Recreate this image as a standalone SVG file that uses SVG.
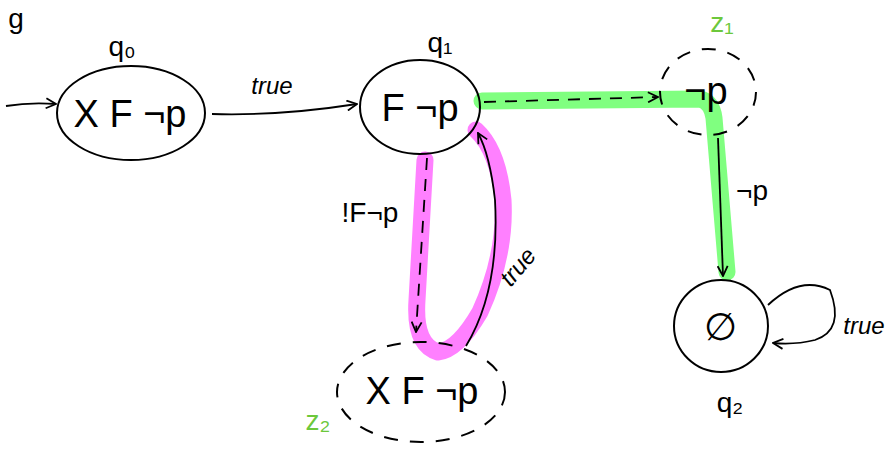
<svg xmlns="http://www.w3.org/2000/svg" width="888" height="450" viewBox="0 0 888 450">
<defs>
<marker id="ah" viewBox="0 0 12 12" refX="11" refY="6" markerWidth="12" markerHeight="12" markerUnits="userSpaceOnUse" orient="auto">
<path d="M1,1 L11,6 L1,11" fill="none" stroke="#000" stroke-width="1.8"/>
</marker>
<style>
.node{fill:none;stroke:#000;stroke-width:2}
.dnode{fill:none;stroke:#000;stroke-width:2;stroke-dasharray:14 12}
.edge{fill:none;stroke:#000;stroke-width:1.8}
.dedge{fill:none;stroke:#000;stroke-width:1.8;stroke-dasharray:12 9}
.hlg{fill:none;stroke:#80ff80;stroke-width:17;stroke-linecap:round;stroke-linejoin:round}
.hlm{fill:none;stroke:#ff80ff;stroke-width:17;stroke-linecap:round;stroke-linejoin:round}
.t{font-family:"Liberation Sans",Arial,sans-serif;fill:#000;text-anchor:middle}
.big{font-size:38px}
.lbl{font-size:28px}
.sm{font-size:24px;font-style:italic}
.g{fill:#6cc83c}
</style>
</defs>
<g id="highlights">
<path class="hlg" d="M482,101 L700,99 Q712,102 714,118 L727,272"/>
<path class="hlm" d="M425,160 L417,300 Q414,345 438,352 Q458,350 480,312 Q506,255 503,200 Q498,150 476,130"/>
</g>
<text class="t" x="16" y="28" font-size="28">g</text>
<g id="connectors">
<path class="edge" marker-end="url(#ah)" d="M6,106 Q30,102 56,104"/>
<path class="edge" marker-end="url(#ah)" d="M212,114 Q280,116 357,104"/>
<path class="dedge" marker-end="url(#ah)" d="M484,102 L658,97"/>
<path class="edge" marker-end="url(#ah)" d="M718,138 L723,276"/>
<path class="dedge" marker-end="url(#ah)" d="M427,158 L416,332"/>
<path class="edge" marker-end="url(#ah)" d="M466,346 Q500,290 495,200 Q490,155 478,133"/>
<path class="edge" marker-end="url(#ah)" d="M768,305 Q800,275 830,290 Q845,330 815,340 Q795,345 773,343"/>
<text class="t sm" x="272" y="94">true</text>
<text class="t lbl" x="370" y="222">!F¬p</text>
<text class="t sm" transform="translate(524,272) rotate(-50)">true</text>
<text class="t lbl" x="752" y="200">¬p</text>
<text class="t sm" x="864" y="334">true</text>
</g>
<g id="q0">
<ellipse class="node" cx="131" cy="113" rx="74" ry="47"/>
<text class="t big" x="130" y="127">X F ¬p</text>
<text class="t lbl" x="122" y="56">q₀</text>
</g>
<g id="q1">
<ellipse class="node" cx="420" cy="107" rx="60" ry="47"/>
<text class="t big" x="420" y="121">F ¬p</text>
<text class="t lbl" x="440" y="52">q₁</text>
</g>
<g id="z1">
<ellipse class="dnode" cx="708" cy="92" rx="48" ry="43"/>
<text class="t big" x="706" y="104">¬p</text>
<text class="t lbl g" x="722" y="32">z₁</text>
</g>
<g id="q2">
<ellipse class="node" cx="721" cy="326" rx="47" ry="46"/>
<text class="t big" x="720" y="340">∅</text>
<text class="t lbl" x="730" y="412">q₂</text>
</g>
<g id="z2">
<ellipse class="dnode" cx="421" cy="392" rx="84" ry="50"/>
<text class="t big" x="422" y="404">X F ¬p</text>
<text class="t lbl g" x="318" y="430">z₂</text>
</g>
</svg>
